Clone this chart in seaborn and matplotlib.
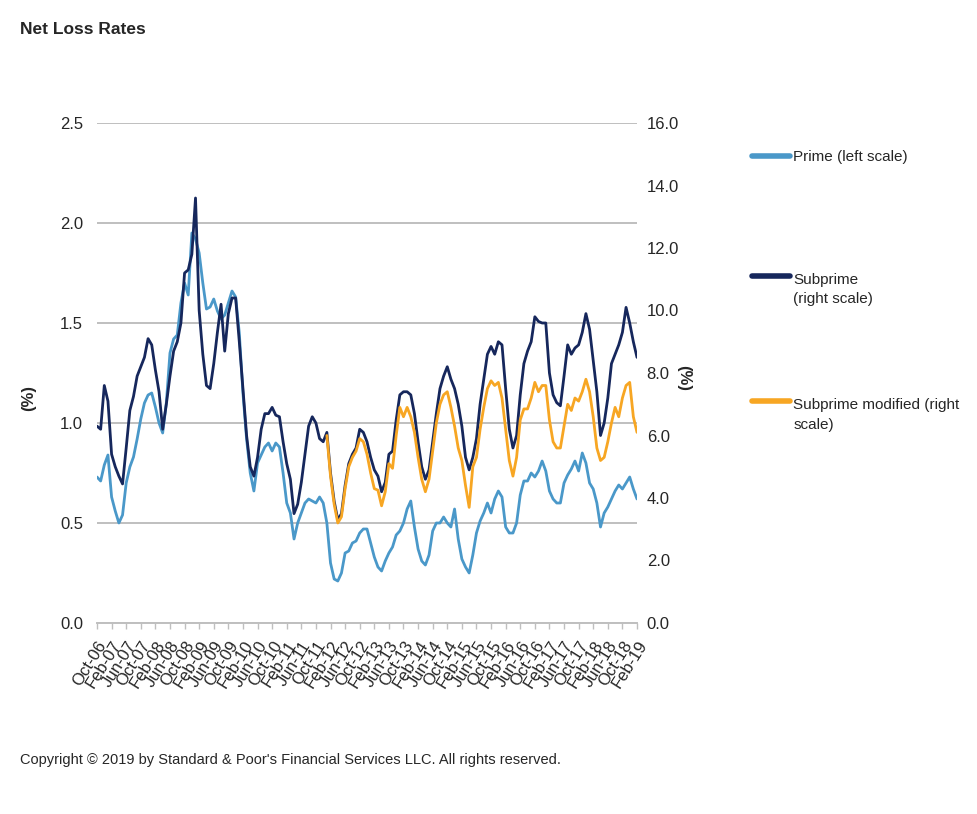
import numpy as np
import pandas as pd
import matplotlib
matplotlib.use("Agg")
import matplotlib.pyplot as plt
import seaborn as sns
from matplotlib.legend_handler import HandlerLine2D
from matplotlib.ticker import FormatStrFormatter

# ---------------- data ----------------
months = pd.date_range("2006-10-01", "2019-02-01", freq="MS")
month_labels = list(months.strftime("%b-%y"))

prime = [
    0.73, 0.71, 0.79, 0.84, 0.63, 0.56, 0.50, 0.54, 0.70, 0.78,
    0.83, 0.92, 1.02, 1.10, 1.14, 1.15, 1.08, 1.00, 0.95, 1.10,
    1.35, 1.42, 1.44, 1.60, 1.70, 1.64, 1.95, 1.92, 1.85, 1.70,
    1.57, 1.58, 1.62, 1.56, 1.52, 1.54, 1.60, 1.66, 1.63, 1.45,
    1.15, 0.92, 0.75, 0.66, 0.80, 0.84, 0.88, 0.90, 0.86, 0.90,
    0.88, 0.75, 0.60, 0.55, 0.42, 0.50, 0.55, 0.60, 0.62, 0.61,
    0.60, 0.63, 0.60, 0.50, 0.30, 0.22, 0.21, 0.25, 0.35, 0.36,
    0.40, 0.41, 0.45, 0.47, 0.47, 0.40, 0.33, 0.28, 0.26, 0.31,
    0.35, 0.38, 0.44, 0.46, 0.50, 0.57, 0.61, 0.48, 0.37, 0.31,
    0.29, 0.34, 0.46, 0.50, 0.50, 0.53, 0.50, 0.48, 0.57, 0.42,
    0.32, 0.28, 0.25, 0.34, 0.45, 0.51, 0.55, 0.60, 0.55, 0.62,
    0.66, 0.63, 0.48, 0.45, 0.45, 0.50, 0.64, 0.71, 0.71, 0.75,
    0.73, 0.76, 0.81, 0.76, 0.66, 0.62, 0.60, 0.60, 0.70, 0.74,
    0.77, 0.81, 0.76, 0.85, 0.80, 0.70, 0.67, 0.60, 0.48, 0.55,
    0.58, 0.62, 0.66, 0.69, 0.67, 0.70, 0.73, 0.67, 0.62,
]

subprime = [
    6.3, 6.2, 7.6, 7.1, 5.4, 5.0, 4.7, 4.45, 5.6, 6.8,
    7.25, 7.9, 8.2, 8.5, 9.1, 8.9, 8.1, 7.4, 6.2, 7.0,
    7.9, 8.7, 9.0, 9.6, 11.2, 11.3, 11.8, 13.6, 10.0, 8.6,
    7.6, 7.5, 8.3, 9.3, 10.2, 8.7, 9.9, 10.4, 10.4, 9.0,
    7.5, 6.0, 5.0, 4.7, 5.3, 6.2, 6.7, 6.7, 6.9, 6.65,
    6.6, 5.8, 5.1, 4.6, 3.5, 3.8, 4.5, 5.4, 6.3, 6.6,
    6.4, 5.9, 5.8, 6.1, 4.8, 3.9, 3.3, 3.5, 4.4, 5.1,
    5.4, 5.6, 6.2, 6.1, 5.8, 5.3, 4.9, 4.7, 4.2, 4.5,
    5.4, 5.5, 6.5, 7.3, 7.4, 7.4, 7.3, 6.7, 5.8, 5.0,
    4.6, 4.9, 5.8, 6.7, 7.5, 7.9, 8.2, 7.8, 7.5, 7.0,
    6.3, 5.3, 4.9, 5.3, 5.9, 7.0, 7.8, 8.6, 8.85, 8.6,
    9.0, 8.9, 7.5, 6.2, 5.6, 6.0, 7.3, 8.3, 8.7, 9.0,
    9.8, 9.65, 9.6, 9.6, 8.0, 7.3, 7.05, 6.95, 7.9, 8.9,
    8.6, 8.8, 8.9, 9.3, 9.9, 9.4, 8.4, 7.4, 6.0, 6.4,
    7.2, 8.3, 8.6, 8.9, 9.3, 10.1, 9.6, 9.0, 8.5,
]

subprime_modified = [np.nan] * 63 + [
    6.0, 4.7, 3.8, 3.2, 3.4, 4.3, 5.0, 5.3, 5.5, 5.9,
    5.8, 5.4, 4.8, 4.3, 4.25, 3.75, 4.2, 5.1, 4.95, 6.0,
    6.9, 6.6, 6.9, 6.6, 6.1, 5.3, 4.6, 4.2, 4.6, 5.5,
    6.4, 7.0, 7.3, 7.4, 6.9, 6.3, 5.6, 5.2, 4.4, 3.7,
    5.0, 5.3, 6.2, 6.9, 7.5, 7.75, 7.6, 7.7, 7.2, 6.2,
    5.2, 4.7, 5.3, 6.5, 6.85, 6.85, 7.2, 7.7, 7.4, 7.6,
    7.6, 6.5, 5.8, 5.6, 5.6, 6.3, 7.0, 6.8, 7.2, 7.1,
    7.4, 7.8, 7.4, 6.6, 5.6, 5.2, 5.3, 5.8, 6.4, 6.9,
    6.6, 7.2, 7.6, 7.7, 6.6, 6.1,
]

left_ticks = [0.0, 0.5, 1.0, 1.5, 2.0, 2.5]
right_ticks = [0.0, 2.0, 4.0, 6.0, 8.0, 10.0, 12.0, 14.0, 16.0]

df = pd.DataFrame({
    "t": np.arange(len(months)),
    "Prime": prime,
    "Subprime": subprime,
    "Modified": subprime_modified,
})

# ---------------- style ----------------
sns.set_style("white")
plt.rcParams["font.family"] = ["Liberation Sans", "DejaVu Sans"]

C_PRIME = "#4a98c9"
C_SUB = "#16275c"
C_MOD = "#f7a623"
GRID = "#bfbfbf"
TXT = "#262626"

fig = plt.figure(figsize=(9.77, 8.14), dpi=100)
ax = fig.add_axes([97 / 977, 1 - 623 / 814, 540 / 977, 500 / 814])
ax2 = ax.twinx()

sns.lineplot(data=df, x="t", y="Prime", ax=ax, color=C_PRIME, lw=2.0,
             label="Prime (left scale)", legend=False)
sns.lineplot(data=df, x="t", y="Subprime", ax=ax2, color=C_SUB, lw=2.0,
             label="Subprime\n(right scale)", legend=False)
sns.lineplot(data=df, x="t", y="Modified", ax=ax2, color=C_MOD, lw=2.0,
             label="Subprime modified (right\nscale)", legend=False)

ax.set_xlim(0, len(months) - 1)
ax.set_ylim(0, 2.5)
ax2.set_ylim(0, 16)
ax.set_yticks(left_ticks)
ax2.set_yticks(right_ticks)
ax.yaxis.set_major_formatter(FormatStrFormatter("%.1f"))
ax2.yaxis.set_major_formatter(FormatStrFormatter("%.1f"))

tick_pos = df["t"].values[::4]
ax.set_xticks(tick_pos)
ax.set_xticklabels([month_labels[i] for i in tick_pos], rotation=58,
                   ha="right", rotation_mode="anchor", fontsize=12, color=TXT)

ax.grid(axis="y", color=GRID, lw=1.4)
ax.grid(axis="x", visible=False)
ax2.grid(False)
for a in (ax, ax2):
    for s in ("left", "right", "top", "bottom"):
        a.spines[s].set_visible(False)
ax.spines["bottom"].set_visible(True)
ax.spines["bottom"].set_color(GRID)
ax.spines["bottom"].set_linewidth(1.4)

ax.tick_params(axis="x", which="major", length=4, width=1, color=GRID,
               direction="out", pad=7, bottom=True)
ax.tick_params(axis="y", length=0, pad=10, labelsize=12, labelcolor=TXT)
ax2.tick_params(axis="y", length=0, pad=7, labelsize=12, labelcolor=TXT)

ax.set_xlabel("")
ax.set_ylabel("(%)", fontsize=12, fontweight="bold", color=TXT)
ax.yaxis.set_label_coords(-0.112, 0.45)
ax2.set_ylabel("(%)", fontsize=12, fontweight="bold", color=TXT, rotation=270)
ax2.yaxis.set_label_coords(1.1, 0.49)

fig.text(20 / 977, 1 - 30 / 814, "Net Loss Rates", fontsize=12.5,
         fontweight="bold", color=TXT, va="center", ha="left")
fig.text(20 / 977, 1 - 760 / 814,
         "Copyright \u00a9 2019 by Standard & Poor's Financial Services LLC. All rights reserved.",
         fontsize=10.5, color=TXT, va="center", ha="left")


# legend: handle aligned with first text line
class ShiftHandler(HandlerLine2D):
    def __init__(self, shift=0.0, **kw):
        super().__init__(**kw)
        self.shift = shift

    def create_artists(self, legend, orig_handle, xdescent, ydescent,
                       width, height, fontsize, trans):
        arts = super().create_artists(legend, orig_handle, xdescent, ydescent,
                                      width, height, fontsize, trans)
        for a in arts:
            yd = a.get_ydata()
            a.set_ydata([y + self.shift * fontsize for y in yd])
        return arts


handles = ax.get_lines()[:1] + ax2.get_lines()[:2]
labels = [h.get_label() for h in handles]
ypos = [160, 283, 408]
for h, lab, yp in zip(handles, labels, ypos):
    nlines = lab.count("\n") + 1
    sh = 0.6 * (nlines - 1) * 1.5
    leg = fig.legend([h], [lab], loc="upper left",
                     bbox_to_anchor=(752 / 977, 1 - (yp - 10) / 814),
                     frameon=False, fontsize=11, handlelength=2.5,
                     handletextpad=0.2, borderpad=0, borderaxespad=0,
                     handler_map={h: ShiftHandler(shift=sh)})
    for t in leg.get_texts():
        t.set_color(TXT)
        t.set_linespacing(1.5)
    for l in leg.get_lines():
        l.set_linewidth(4)
        l.set_solid_capstyle("round")

fig.savefig("out.png", dpi=100)
